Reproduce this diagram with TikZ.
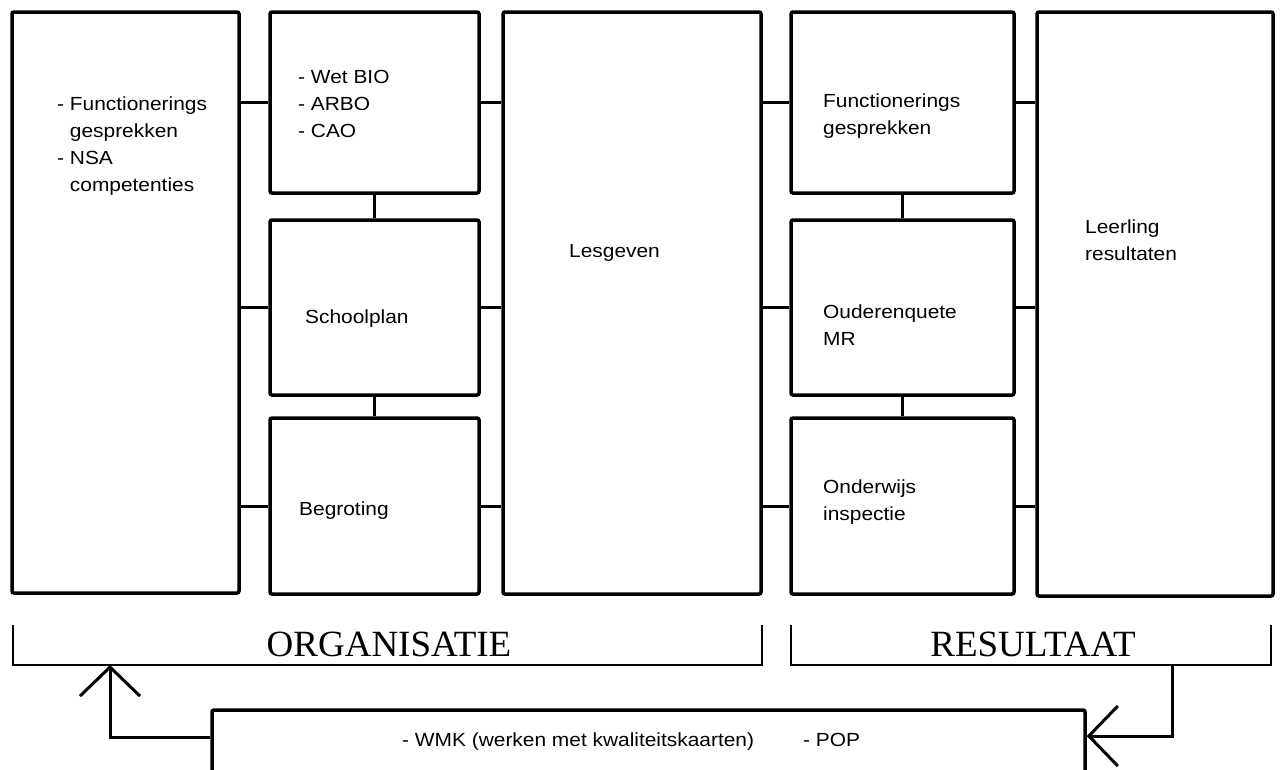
\documentclass[tikz,border=0pt]{standalone}
\usepackage{fontspec}
\setmainfont{Liberation Sans}[FakeStretch=1.1]
\newfontfamily\kopfont{Liberation Serif}
\usepackage{tikz}
\usetikzlibrary{arrows.meta}

\begin{document}
\begin{tikzpicture}[x=1pt, y=-1pt, font=\fontsize{19}{27}\selectfont,
  box/.style={draw, line width=3.5pt, rounded corners=2pt, inner sep=0pt},
  kol2/.style={box, minimum width=209pt},
  kol4/.style={box, minimum width=223pt},
  txt/.style={anchor=base west, align=left, inner sep=0pt},
  kop/.style={anchor=base, inner sep=0pt, font=\kopfont\fontsize{37}{40}\selectfont},
  lijn/.style={line width=3pt},
  haak/.style={line width=2.7pt},
  arr/.style={line width=3pt, -{Straight Barb[length=29pt, width=60pt, line width=3pt]}}]
\useasboundingbox (0,0) rectangle (1280,769);

% linker kolom (tekst: basislijn van de laatste regel)
\node[box, minimum width=227pt, minimum height=581pt] (links) at (125.5, 302.5) {};
\node[txt] (linkst) at (57, 191)
  {- Functionerings\\\phantom{- }gesprekken\\- NSA\\\phantom{- }competenties};

% tweede kolom
\node[kol2, minimum height=181pt] (wet)  at (374.5, 102.5) {};
\node[kol2, minimum height=175pt] (plan) at (374.5, 307.5) {};
\node[kol2, minimum height=176pt] (begr) at (374.5, 506) {};
\node[txt] (wett)  at (298, 137) {- Wet BIO\\- ARBO\\- CAO};
\node[txt] (plant) at (305, 323) {Schoolplan};
\node[txt] (begrt) at (299, 515) {Begroting};

% midden
\node[box, minimum width=258pt, minimum height=582pt] (les) at (632, 303) {};
\node[txt] (lest) at (569, 257) {Lesgeven};

% vierde kolom
\node[kol4, minimum height=181pt] (fg)   at (902.5, 102.5) {};
\node[kol4, minimum height=175pt] (oud)  at (902.5, 307.5) {};
\node[kol4, minimum height=176pt] (insp) at (902.5, 506) {};
\node[txt] (fgt)   at (823, 134) {Functionerings\\gesprekken};
\node[txt] (oudt)  at (823, 345) {Ouderenquete\\MR};
\node[txt] (inspt) at (823, 520) {Onderwijs\\inspectie};

% rechter kolom
\node[box, minimum width=236pt, minimum height=584pt] (leer) at (1155, 304) {};
\node[txt] (leert) at (1085, 260) {Leerling\\resultaten};

% verbindingen
\foreach \a/\b in {wet/fg, plan/oud, begr/insp}{
  \draw[lijn] (\a.west -| links.east) -- (\a.west);
  \draw[lijn] (\a.east) -- (\a.east -| les.west);
  \draw[lijn] (\b.west -| les.east) -- (\b.west);
  \draw[lijn] (\b.east) -- (\b.east -| leer.west);}
\draw[lijn] (wet) -- (plan);
\draw[lijn] (plan) -- (begr);
\draw[lijn] (fg) -- (oud);
\draw[lijn] (oud) -- (insp);

% haken met kopjes
\draw[haak] (13,625) -- (13,665) -- (762,665) -- (762,625);
\draw[haak] (791,625) -- (791,665) -- (1271,665) -- (1271,625);
\node[kop] (org) at (389, 656) {ORGANISATIE};
\node[kop] (res) at (1033, 656) {RESULTAAT};

% terugkoppeling
\node[box, minimum width=873pt, minimum height=70pt] (wmk) at (648.5, 745) {};
\node[txt] (wmkt) at (402, 746) {- WMK (werken met kwaliteitskaarten)};
\node[txt] (popt) at (803, 746) {- POP};
\coordinate (orgvoet) at (110, 665);
\coordinate (resvoet) at (1172, 665);
\draw[arr] ([yshift=8pt]wmk.west) -| (orgvoet);
\draw[arr] (resvoet) |- ([yshift=9pt]wmk.east);
\end{tikzpicture}
\end{document}
